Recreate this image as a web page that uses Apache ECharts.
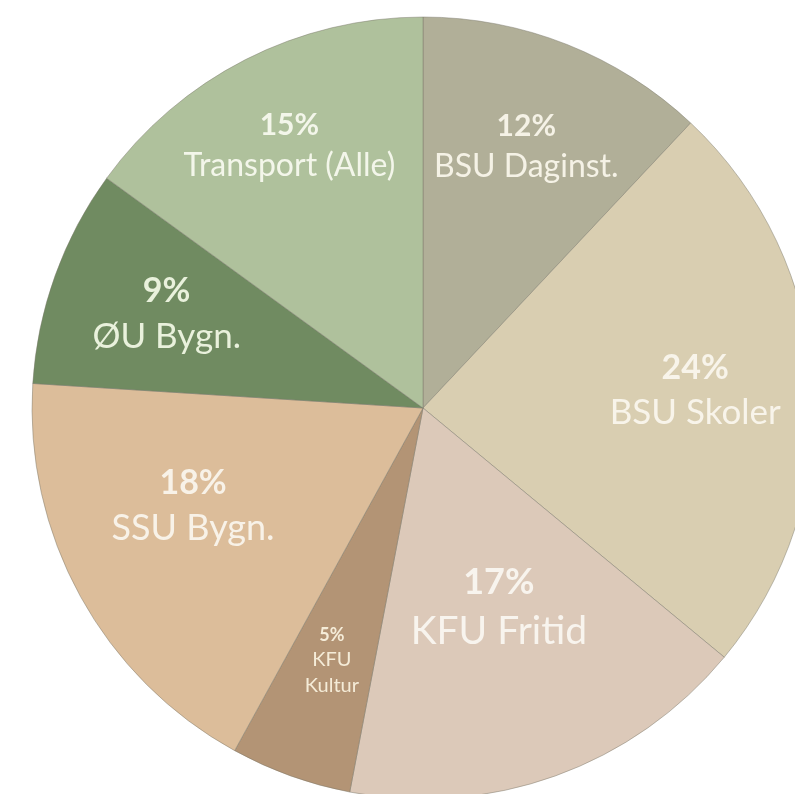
<!DOCTYPE html>
<html>
<head>
<meta charset="utf-8">
<script src="https://cdn.jsdelivr.net/npm/echarts@6/dist/echarts.min.js"></script>
<style>
  html, body { margin: 0; padding: 0; background: #ffffff; }
  #chart { width: 795px; height: 794px; }
</style>
</head>
<body>
<div id="chart"></div>
<script>
// slices, clockwise from 12 o'clock
var names = ['BSU Daginst.', 'BSU Skoler', 'KFU Fritid', 'KFU Kultur', 'SSU Bygn.', 'ØU Bygn.', 'Transport (Alle)'];
var labelNames = ['BSU Daginst.', 'BSU Skoler', 'KFU Fritid', 'KFU\nKultur', 'SSU Bygn.', 'ØU Bygn.', 'Transport (Alle)'];
var values = [12, 24, 17, 5, 18, 9, 15];

var colors = ['#b1af98', '#d9ceb1', '#dcc9b9', '#b39475', '#dcbd9a', '#708b61', '#afc19c'];
var textColors = ['#f5f2e6', '#f8f4ea', '#f8f4ee', '#f5ecd8', '#f8f2e8', '#e9f1dc', '#f3f6ea'];
// label distance from centre, as share of the radius, plus a small nudge
var labelPos = [0.71, 0.69, 0.535, 0.68, 0.64, 0.70, 0.745];
var labelNudge = [[0, 0], [0, 0], [4, 0], [0, 0], [-8, -24], [4, 0], [0, 0]];
var pctSize = [30, 34, 36, 18, 34, 34, 30];
var nameSize = [32, 35, 39, 20, 36, 35, 32];

var R = 391;
var center = ['423px', '408px'];

var pieData = [];
for (var i = 0; i < values.length; i++) {
	pieData.push({ name: names[i], value: values[i], itemStyle: { color: colors[i] } });
}

var series = [{
	type: 'pie',
	center: center,
	radius: [0, R],
	startAngle: 90,
	clockwise: true,
	silent: true,
	animation: false,
	label: { show: false },
	labelLine: { show: false },
	itemStyle: { borderColor: 'rgba(120,118,105,0.45)', borderWidth: 1 },
	data: pieData
}];

// one transparent ring per label, so each label sits at its own radius
for (var k = 0; k < values.length; k++) {
	var r0 = Math.max(0, 2 * labelPos[k] * R - R);
	var d = [];
	for (var j = 0; j < values.length; j++) {
		d.push({
			name: names[j],
			value: values[j],
			itemStyle: { color: 'rgba(0,0,0,0)', borderWidth: 0 },
			label: { show: j === k }
		});
	}
	series.push({
		type: 'pie',
		center: center,
		radius: [r0, R],
		startAngle: 90,
		clockwise: true,
		silent: true,
		animation: false,
		labelLine: { show: false },
		labelLayout: { dx: labelNudge[k][0], dy: labelNudge[k][1] },
		label: {
			position: 'inside',
			formatter: (function (idx) {
				return function (p) {
					return '{p|' + values[idx] + '%}\n{n|' + labelNames[idx].split('\n').join('}\n{n|') + '}';
				};
			})(k),
			rich: {
				p: { fontFamily: 'Lato', fontWeight: 'bold', fontSize: pctSize[k], color: textColors[k], lineHeight: pctSize[k] * 1.3, align: 'center' },
				n: { fontFamily: 'Lato', fontSize: nameSize[k], color: textColors[k], lineHeight: nameSize[k] * 1.3, align: 'center' }
			}
		},
		data: d
	});
}

var myChart = echarts.init(document.getElementById('chart'));
myChart.setOption({
	backgroundColor: '#ffffff',
	series: series
});
</script>
</body>
</html>
